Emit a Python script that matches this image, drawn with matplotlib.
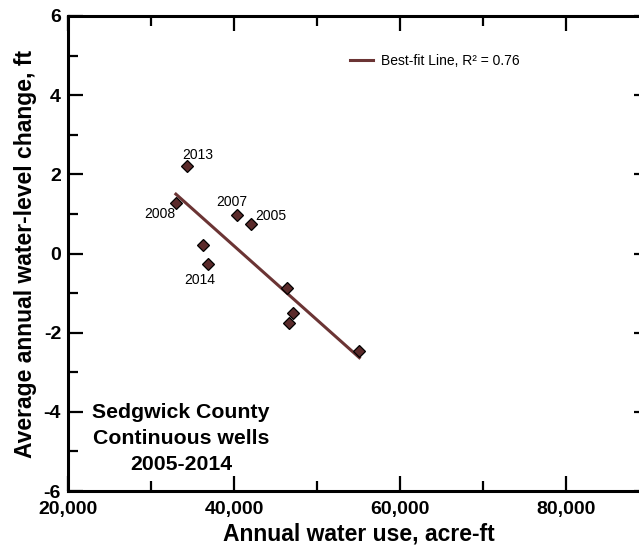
import numpy as np
import matplotlib
matplotlib.use("Agg")
import matplotlib.pyplot as plt
import matplotlib.ticker as mticker

plt.rcParams["font.family"] = ["Liberation Sans", "DejaVu Sans"]

# Annual water use (acre-ft) vs. average annual water-level change (ft)
years = ["2013", "2008", "2007", "2005", "", "2014", "", "", "", ""]
water_use = [34300, 33000, 40400, 42000, 36300, 36900, 46400, 47100, 46600, 55100]
level_change = [2.20, 1.28, 0.97, 0.75, 0.21, -0.27, -0.88, -1.50, -1.76, -2.47]

# label offsets in points (dx, dy) from the marker
label_offsets = {
    "2013": (8, 8),
    "2008": (-11.5, -8),
    "2007": (-4.3, 9.4),
    "2005": (14.4, 5.8),
    "2014": (-5.8, -11.5),
}

x = np.array(water_use, dtype=float)
y = np.array(level_change, dtype=float)
slope, intercept = np.polyfit(x, y, 1)
x_fit = np.array([x.min(), x.max()])
y_fit = slope * x_fit + intercept
r2 = 1 - np.sum((y - (slope * x + intercept)) ** 2) / np.sum((y - y.mean()) ** 2)

fig = plt.figure(figsize=(6.39, 5.46), dpi=100)
ax = fig.add_axes([68 / 639, 1 - 491 / 546, 581 / 639, 475 / 546])

line_color = "#6b3434"
ax.plot(x_fit, y_fit, color=line_color, lw=2.2, zorder=2,
        label=f"Best-fit Line, R\u00b2 = {r2:.2f}")
ax.plot(x, y, linestyle="none", marker="D", ms=6.5, mfc="#5a2a2a",
        mec="black", mew=0.9, zorder=3)

for xi, yi, yr in zip(x, y, years):
    if not yr:
        continue
    ax.annotate(yr, (xi, yi), xytext=label_offsets[yr], textcoords="offset points",
                ha="center", va="center", fontsize=10)

ax.text(0.1945, 0.11, "Sedgwick County\nContinuous wells\n2005-2014",
        transform=ax.transAxes, ha="center", va="center",
        fontsize=15.3, fontweight="bold", linespacing=1.45)

ax.set_xlim(20000, 90000)
ax.set_ylim(-6, 6)
ax.xaxis.set_major_locator(mticker.MultipleLocator(20000))
ax.xaxis.set_minor_locator(mticker.MultipleLocator(10000))
ax.yaxis.set_major_locator(mticker.MultipleLocator(2))
ax.yaxis.set_minor_locator(mticker.MultipleLocator(1))
ax.xaxis.set_major_formatter(mticker.StrMethodFormatter("{x:,.0f}"))
ax.yaxis.set_major_formatter(mticker.FuncFormatter(lambda v, p: f"{v:.0f}".replace("\u2212", "-")))

ax.tick_params(which="both", direction="in", top=True, right=True, width=1.6)
ax.tick_params(which="major", length=11, labelsize=14)
ax.tick_params(which="minor", length=7.2)
ax.tick_params(axis="y", which="minor", right=False)
ax.tick_params(axis="x", which="major", pad=7.5)
ax.tick_params(axis="y", which="major", pad=5)
for lab in ax.get_xticklabels() + ax.get_yticklabels():
    lab.set_fontweight("bold")
for sp in ax.spines.values():
    sp.set_linewidth(2.2)

ax.set_xlabel("Annual water use, acre-ft", fontsize=16.5, fontweight="bold", labelpad=3)
ax.set_ylabel("Average annual water-level change, ft", fontsize=16.5,
              fontweight="bold", labelpad=5)

ax.legend(loc="center left", bbox_to_anchor=(0.485, 0.905), frameon=False,
          fontsize=10, handlelength=1.7, handletextpad=0.55,
          borderpad=0, borderaxespad=0)

fig.savefig("out.png", dpi=100)
